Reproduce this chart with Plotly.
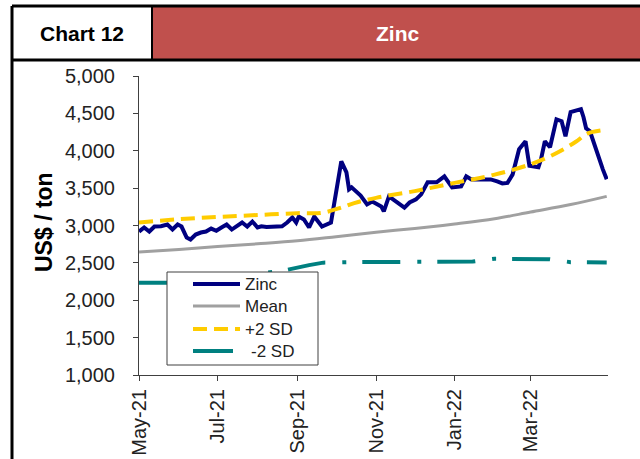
import plotly.graph_objects as go

# ---------------- data ----------------
zinc_dates = ["2021-05-01","2021-05-05","2021-05-09","2021-05-13","2021-05-18","2021-05-23","2021-05-27",
              "2021-05-31","2021-06-03","2021-06-07","2021-06-10","2021-06-14","2021-06-18","2021-06-22",
              "2021-06-26","2021-06-30","2021-07-04","2021-07-08","2021-07-12","2021-07-16","2021-07-20",
              "2021-07-24","2021-07-28","2021-08-01","2021-08-04","2021-08-08","2021-08-14","2021-08-20",
              "2021-08-24","2021-08-28","2021-08-31","2021-09-02","2021-09-06","2021-09-10","2021-09-14",
              "2021-09-20","2021-09-27","2021-09-29","2021-10-05","2021-10-09","2021-10-11","2021-10-13",
              "2021-10-17","2021-10-20","2021-10-25","2021-10-29","2021-11-05","2021-11-07","2021-11-11",
              "2021-11-17","2021-11-23","2021-11-27","2021-12-02","2021-12-06","2021-12-11","2021-12-18",
              "2021-12-24","2021-12-30","2022-01-06","2022-01-10","2022-01-14","2022-01-20","2022-01-29",
              "2022-02-03","2022-02-07","2022-02-11","2022-02-15","2022-02-20","2022-02-25","2022-02-28",
              "2022-03-02","2022-03-07","2022-03-09","2022-03-12","2022-03-16","2022-03-21","2022-03-25",
              "2022-03-28","2022-04-01","2022-04-05","2022-04-09","2022-04-11","2022-04-13","2022-04-16",
              "2022-04-20","2022-04-24","2022-04-26","2022-04-29"]
zinc_values = [2919,2973,2919,2986,2990,3013,2946,
               3013,2986,2839,2812,2879,2906,2919,
               2959,2930,2973,3013,2946,2986,3040,
               2986,3053,2973,2990,2980,2986,2990,
               3040,3107,3040,3120,3080,2973,3120,
               2986,3040,3255,3858,3710,3483,3510,
               3443,3400,3282,3320,3255,3188,3390,
               3320,3240,3308,3350,3416,3577,3577,
               3657,3510,3523,3657,3617,3617,3617,
               3590,3563,3570,3684,4020,4127,3800,
               3791,3778,3885,4127,4047,4420,4395,
               4194,4516,4530,4556,4449,4300,4261,
               4050,3870,3751,3620]

mean_dates = ["2021-05-01","2021-06-01","2021-07-01","2021-08-01","2021-09-01","2021-10-01","2021-11-01",
              "2021-12-01","2022-01-01","2022-02-01","2022-03-01","2022-04-01","2022-04-29"]
mean_values = [2645,2680,2720,2755,2795,2850,2910,2960,3020,3090,3180,3280,3390]

plus_dates = ["2021-05-01","2021-06-01","2021-07-01","2021-08-01","2021-09-01","2021-09-20","2021-10-05",
              "2021-10-15","2021-11-01","2021-12-01","2022-01-01","2022-02-01","2022-03-01","2022-03-20",
              "2022-04-05","2022-04-14","2022-04-29"]
plus_values = [3040,3085,3115,3140,3165,3170,3240,3300,3370,3460,3570,3680,3820,3960,4120,4230,4280]

minus_dates = ["2021-05-01","2021-06-20","2021-08-08","2021-08-22","2021-09-10","2021-09-21","2021-10-15",
               "2021-11-15","2021-12-15","2022-01-15","2022-02-01","2022-03-01","2022-03-15","2022-04-01",
               "2022-04-29"]
minus_values = [2235,2235,2370,2400,2470,2503,2510,2512,2515,2517,2555,2555,2550,2510,2505]

series_names = ["Zinc", "Mean", "+2 SD", "-2 SD"]

y_ticks = [1000,1500,2000,2500,3000,3500,4000,4500,5000]
y_tick_labels = ["1,000","1,500","2,000","2,500","3,000","3,500","4,000","4,500","5,000"]

# ---------------- styles / layout helpers ----------------
W, H = 640, 459
L, R, T, B = 139, 608, 76, 375


def xp(px):
    return (px - L) / (R - L)


def yp(py):
    return (B - py) / (B - T)


FONT = "Liberation Sans, Arial, sans-serif"
styles = [
    dict(color="#000080", width=4),
    dict(color="#A0A0A0", width=3),
    dict(color="#FFCC00", width=4, dash="14px,7px"),
    dict(color="#008080", width=4, dash="38px,17px,4px,16px"),
]

fig = go.Figure()
fig.add_trace(go.Scatter(x=zinc_dates, y=zinc_values, name=series_names[0], mode="lines",
                         line=styles[0]))
fig.add_trace(go.Scatter(x=mean_dates, y=mean_values, name=series_names[1], mode="lines",
                         line=dict(styles[1], shape="spline")))
fig.add_trace(go.Scatter(x=plus_dates, y=plus_values, name=series_names[2], mode="lines",
                         line=dict(styles[2], shape="spline")))
fig.add_trace(go.Scatter(x=minus_dates, y=minus_values, name=series_names[3], mode="lines",
                         line=styles[3]))

shapes = [
    # red header cell
    dict(type="rect", xref="paper", yref="paper", x0=xp(152), x1=xp(641), y0=yp(60), y1=yp(6),
         fillcolor="#C0504D", line=dict(width=0), layer="below"),
    # border lines
    dict(type="line", xref="paper", yref="paper", x0=xp(12), x1=xp(641), y0=yp(6), y1=yp(6),
         line=dict(color="black", width=3)),
    dict(type="line", xref="paper", yref="paper", x0=xp(12), x1=xp(641), y0=yp(60), y1=yp(60),
         line=dict(color="black", width=3)),
    dict(type="line", xref="paper", yref="paper", x0=xp(12), x1=xp(12), y0=yp(6), y1=yp(460),
         line=dict(color="black", width=3)),
    dict(type="line", xref="paper", yref="paper", x0=xp(152), x1=xp(152), y0=yp(6), y1=yp(60),
         line=dict(color="black", width=2)),
    # legend box
    dict(type="rect", xref="paper", yref="paper", x0=xp(167), x1=xp(318), y0=yp(365), y1=yp(272),
         fillcolor="white", line=dict(color="#404040", width=1), layer="above"),
]

annotations = [
    dict(text="<b>Chart 12</b>", xref="paper", yref="paper", x=xp(82), y=yp(33),
         showarrow=False, font=dict(family=FONT, size=21, color="black"), xanchor="center", yanchor="middle"),
    dict(text="<b>Zinc</b>", xref="paper", yref="paper", x=xp(397), y=yp(33),
         showarrow=False, font=dict(family=FONT, size=21, color="white"), xanchor="center", yanchor="middle"),
    dict(text="<b>US$ / ton</b>", xref="paper", yref="paper", x=xp(44), y=yp(222), textangle=-90,
         showarrow=False, font=dict(family=FONT, size=23, color="black"), xanchor="center", yanchor="middle"),
]

# legend entries (sample line + label)
row_y = [284, 306, 329, 351]
sample_x1 = [240, 240, 240, 233]
text_x = [243, 243, 243, 249]
for i, name in enumerate(series_names):
    st = dict(styles[i])
    if i == 3:
        st.pop("dash")
    shapes.append(dict(type="line", xref="paper", yref="paper", x0=xp(193), x1=xp(sample_x1[i]),
                       y0=yp(row_y[i]), y1=yp(row_y[i]), line=st, layer="above"))
    annotations.append(dict(text=name, xref="paper", yref="paper", x=xp(text_x[i]), y=yp(row_y[i]),
                            showarrow=False, xanchor="left", yanchor="middle",
                            font=dict(family=FONT, size=17, color="#222222")))

fig.update_layout(
    width=W, height=H,
    margin=dict(l=L, r=W - R, t=T, b=H - B, pad=0),
    paper_bgcolor="white", plot_bgcolor="white",
    font=dict(family=FONT, color="#222222"),
    shapes=shapes, annotations=annotations,
    showlegend=False,
)

fig.update_xaxes(
    type="date", range=["2021-05-01", "2022-04-30"], automargin=False,
    tickmode="linear", tick0="2021-05-01", dtick="M2", tickformat="%b-%y",
    tickangle=-90, tickfont=dict(family=FONT, size=20, color="#222222"),
    showline=True, linecolor="#404040", linewidth=1,
    ticks="outside", ticklen=5, tickcolor="#404040",
    showgrid=False, zeroline=False,
)
fig.update_yaxes(
    range=[1000, 5000], tickmode="array", tickvals=y_ticks, ticktext=y_tick_labels, automargin=False,
    tickfont=dict(family=FONT, size=20, color="#222222"),
    showline=True, linecolor="#404040", linewidth=1,
    ticks="outside", ticklen=5, tickcolor="#404040", ticklabelstandoff=14,
    showgrid=False, zeroline=False,
)

fig.write_html("out.html", config={"displayModeBar": False},
               post_script="document.body.style.margin='0px';")
